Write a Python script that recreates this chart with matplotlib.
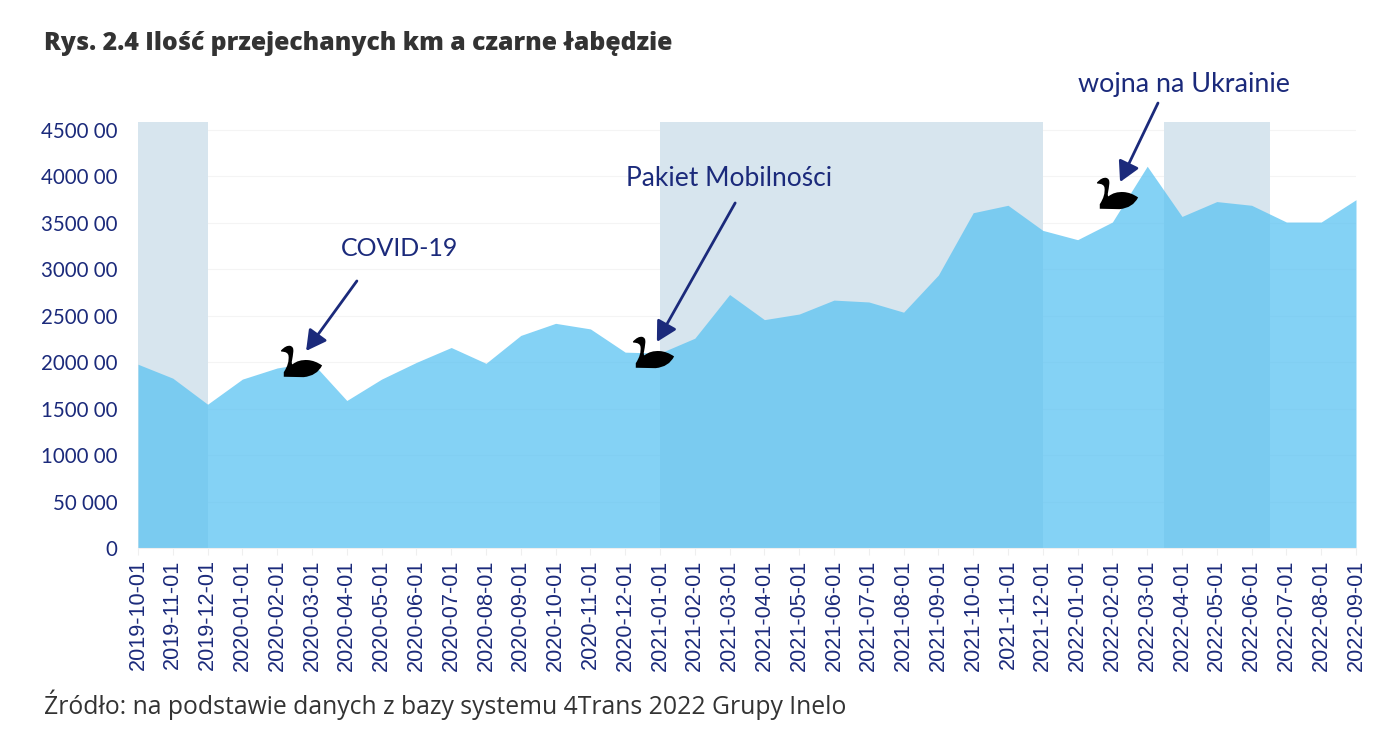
import matplotlib
matplotlib.use('Agg')
import matplotlib.pyplot as plt
from matplotlib.path import Path
import numpy as np

W, H = 1384, 743

MONTHS = ['2019-10-01', '2019-11-01', '2019-12-01', '2020-01-01', '2020-02-01', '2020-03-01',
          '2020-04-01', '2020-05-01', '2020-06-01', '2020-07-01', '2020-08-01', '2020-09-01',
          '2020-10-01', '2020-11-01', '2020-12-01', '2021-01-01', '2021-02-01', '2021-03-01',
          '2021-04-01', '2021-05-01', '2021-06-01', '2021-07-01', '2021-08-01', '2021-09-01',
          '2021-10-01', '2021-11-01', '2021-12-01', '2022-01-01', '2022-02-01', '2022-03-01',
          '2022-04-01', '2022-05-01', '2022-06-01', '2022-07-01', '2022-08-01', '2022-09-01']
KM = [198000, 183000, 155000, 182000, 194000, 200000,
      159000, 182000, 200000, 216000, 199000, 229000,
      242000, 236000, 211000, 210000, 226000, 273000,
      246000, 252000, 267000, 265000, 254000, 294000,
      361000, 369000, 342000, 332000, 351000, 411000,
      357000, 373000, 369000, 351000, 351000, 375000]
Y_TICKS = [0, 50000, 100000, 150000, 200000, 250000, 300000, 350000, 400000, 450000]
Y_LABELS = ['0', '50 000', '1000 00', '1500 00', '2000 00', '2500 00', '3000 00', '3500 00', '4000 00', '4500 00']
BANDS = [(0, 2), (15, 26), (29.47, 32.53)]
BAND_TOP = 458600
SWAN_X = [4.68, 14.8, 28.13]
SWAN_Y = [201500, 211000, 382000]
EVENTS = ['COVID-19', 'Pakiet Mobilności', 'wojna na Ukrainie']
EVENT_X = [7.53, 16.98, 30.07]
EVENT_Y = [323000, 398000, 499000]
EVENT_SIZE = [18, 19, 19.4]
ARROW_FROM = [(6.29, 287600), (17.16, 371500), (29.31, 479000)]
ARROW_TO = [(4.83, 212300), (14.91, 222000), (28.22, 394000)]

NAVY = '#1B2A7B'
DARK = '#333333'

# swan outline
SWAN = Path(
    np.array([(-1.00, 0.53), (-0.75, 0.80), (-0.55, 0.76), (-0.36, 0.72), (-0.40, 0.45), (-0.42, 0.25),
              (-0.46, 0.05), (-0.50, -0.10), (-0.44, -0.14), (-0.15, 0.10), (0.30, 0.07), (0.65, 0.05),
              (1.00, -0.19), (0.75, -0.70), (0.10, -0.76), (-0.86, -0.74), (-0.86, -0.52), (-0.58, -0.10),
              (-0.63, 0.28), (-0.66, 0.48), (-0.98, 0.48), (-1.00, 0.53)]),
    [Path.MOVETO, Path.CURVE3, Path.CURVE3, Path.CURVE3, Path.CURVE3, Path.CURVE3,
     Path.CURVE3, Path.CURVE3, Path.CURVE3, Path.CURVE3, Path.CURVE3, Path.CURVE3,
     Path.CURVE3, Path.CURVE3, Path.CURVE3, Path.LINETO, Path.LINETO, Path.CURVE3,
     Path.CURVE3, Path.CURVE3, Path.CURVE3, Path.CLOSEPOLY])

fig = plt.figure(figsize=(W / 100, H / 100), dpi=100, facecolor='w')
ax = fig.add_axes([138 / W, (H - 548.3) / H, 1218 / W, 426.3 / H])

x = np.arange(len(MONTHS))
for start, end in BANDS:
    ax.axvspan(start, end, color='#D7E5EE', lw=0, zorder=1)
ax.fill_between(x, KM, color='#5BC3F2', alpha=0.75, lw=0, zorder=2)
ax.scatter(SWAN_X, SWAN_Y, marker=SWAN, s=880, color='k', lw=0, zorder=4, clip_on=False)

ax.set_xlim(0, len(MONTHS) - 1)
ax.set_ylim(0, BAND_TOP)
for side in ['top', 'right', 'left']:
    ax.spines[side].set_visible(False)
ax.spines['bottom'].set_color('#EFEFEF')
ax.grid(axis='y', color='#F4F4F4', lw=0.8, zorder=0)
ax.set_axisbelow(True)

ax.set_yticks(Y_TICKS)
ax.set_yticklabels(Y_LABELS, family='Lato', fontsize=14.8, color=NAVY)
ax.tick_params(axis='y', length=0, pad=15)
ax.set_xticks(x)
ax.set_xticklabels(MONTHS, rotation=90, family='Liberation Sans', fontsize=15.6, color=NAVY)
ax.tick_params(axis='x', length=5, width=0.8, color='#EFEFEF', pad=3)

for label, ex, ey, size in zip(EVENTS, EVENT_X, EVENT_Y, EVENT_SIZE):
    ax.text(ex, ey, label, family='Lato', fontsize=size, color=NAVY, ha='center', va='center', clip_on=False)
for start, end in zip(ARROW_FROM, ARROW_TO):
    ax.annotate('', xy=end, xytext=start, zorder=5, annotation_clip=False,
                arrowprops=dict(arrowstyle='-|>,head_length=0.55,head_width=0.3', color=NAVY, lw=2,
                                mutation_scale=22, shrinkA=0, shrinkB=0))

fig.text(44 / W, (H - 44) / H, 'Rys. 2.4 Ilość przejechanych km a czarne łabędzie', family='Open Sans',
         fontweight='heavy', fontsize=17.8, color=DARK, va='center')
fig.text(44 / W, (H - 705) / H, 'Źródło: na podstawie danych z bazy systemu 4Trans 2022 Grupy Inelo',
         family='Open Sans', fontsize=17.85, color=DARK, va='center')

fig.savefig('out.png', dpi=100)
